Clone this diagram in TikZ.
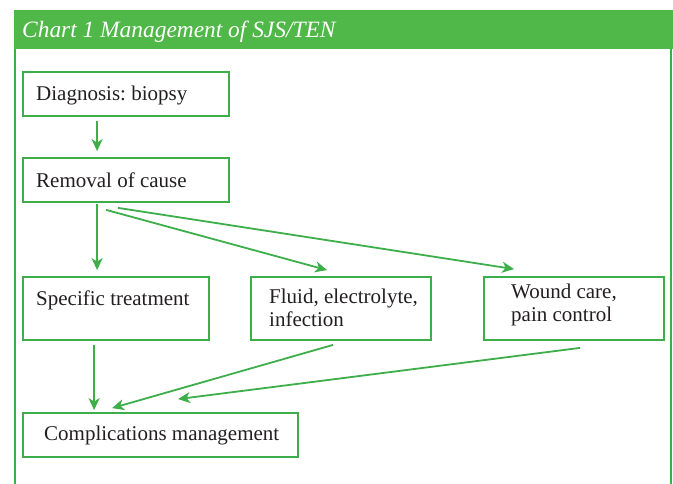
\documentclass[tikz,border=0pt]{standalone}
\usepackage{fontspec}
\setmainfont{Liberation Serif}
\usetikzlibrary{arrows.meta,calc}
\frenchspacing
\definecolor{hdr}{RGB}{80,184,72}
\definecolor{gline}{RGB}{62,174,74}
\definecolor{ink}{RGB}{35,31,32}
\tikzset{
  box/.style={draw=gline, line width=1.8pt, rectangle, inner sep=0pt},
  txt/.style={anchor=base west, text=ink, font=\fontsize{21}{23.5}\selectfont, align=left, inner sep=0pt},
  arr/.style={draw=gline, line width=1.8pt, -{Stealth[length=12pt,width=11pt,inset=3.5pt]}},
}
\begin{document}
\begin{tikzpicture}[x=1pt,y=1pt]
\useasboundingbox (0,0) rectangle (673,484);
% header and frame
\fill[hdr] (14,474) rectangle (673,435);
\node[anchor=base west, text=white, inner sep=0pt, font=\fontsize{23.4}{28}\selectfont\itshape] (title) at (22,446) {Chart 1 Management of SJS/TEN};
\draw[gline, line width=1.8pt] (15,435) -- (15,0);
\draw[gline, line width=1.8pt] (671,435) -- (671,0);
% boxes
\node[box, minimum width=206pt, minimum height=44pt] (diag) at (126,390) {};
\node[box, minimum width=206pt, minimum height=44pt] (rem) at (126,304) {};
\node[box, minimum width=186pt, minimum height=63pt] (spec) at (116,175.5) {};
\node[box, minimum width=180pt, minimum height=63pt] (fluid) at (341,175.5) {};
\node[box, minimum width=180pt, minimum height=63pt] (wound) at (574,175.5) {};
\node[box, minimum width=275pt, minimum height=44pt] (comp) at (160.5,49) {};
% texts
\node[txt] (diagt) at (36,383) {Diagnosis: biopsy};
\node[txt] (remt) at (36,296) {Removal of cause};
\node[txt] (spect) at (36,178) {Specific treatment};
\node[txt] (fluidt) at (269,157) {Fluid, electrolyte,\\infection};
\node[txt] (woundt) at (511,162) {Wound care,\\pain control};
\node[txt] (compt) at (44,43) {Complications management};
% connectors
\draw[arr] ([shift={(75,-4)}]diag.south west) -- ([shift={(75,6)}]rem.north west);
\draw[arr] ([shift={(75,-1)}]rem.south west) -- ([shift={(75,6)}]spec.north west);
\draw[arr] ([shift={(84,-7)}]rem.south west) -- ([shift={(77,6)}]fluid.north west);
\draw[arr] ([shift={(96,-5)}]rem.south west) -- ([shift={(31,7)}]wound.north west);
\draw[arr] ([shift={(72,-4)}]spec.south west) -- ([shift={(72,2)}]comp.north west);
\draw[arr] ([shift={(83,-4)}]fluid.south west) -- ([shift={(90,4)}]comp.north west);
\draw[arr] ([shift={(97,-7)}]wound.south west) -- ([shift={(156,13)}]comp.north west);
\end{tikzpicture}
\end{document}
